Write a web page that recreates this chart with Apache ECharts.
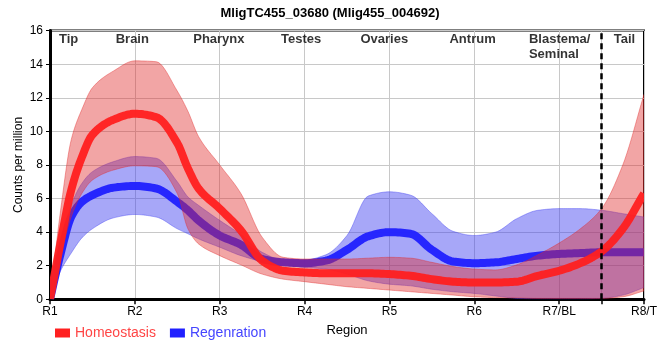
<!DOCTYPE html>
<html>
<head>
<meta charset="utf-8">
<script src="https://cdn.jsdelivr.net/npm/echarts@6/dist/echarts.min.js"></script>
<style>
html,body{margin:0;padding:0;background:#fff;}
#chart{width:660px;height:360px;}
</style>
</head>
<body>
<div id="chart"></div>
<script>
// ---- data ----
const titleText = 'MligTC455_03680 (Mlig455_004692)';
const regionTicks = ['R1', 'R2', 'R3', 'R4', 'R5', 'R6', 'R7/BL', 'R8/T'];
const regionNames = ['Tip', 'Brain', 'Pharynx', 'Testes', 'Ovaries', 'Antrum', 'Blastema/\nSeminal', 'Tail'];
const xs = [1, 1.125, 1.25, 1.375, 1.5, 1.75, 2, 2.25, 2.5, 2.625, 2.75, 3, 3.25, 3.5, 3.75, 4, 4.25, 4.5, 4.75, 5, 5.25, 5.5, 5.75, 6, 6.25, 6.5, 6.75, 7, 7.25, 7.5, 7.75, 8];
const homeoMean = [0, 3.4, 6.5, 8.45, 9.8, 10.7, 11.05, 10.85, 9.3, 7.8, 6.6, 5.4, 4.1, 2.3, 1.7, 1.6, 1.55, 1.55, 1.55, 1.5, 1.4, 1.2, 1.05, 1.0, 1.0, 1.05, 1.4, 1.7, 2.15, 2.85, 4.2, 6.3];
const homeoHigh = [0, 5.3, 9.5, 11.3, 12.6, 13.6, 14.2, 14.15, 12.4, 11.2, 9.7, 8.0, 6.3, 3.7, 2.5, 2.4, 2.4, 2.4, 2.45, 2.5, 2.45, 2.2, 1.95, 1.8, 1.75, 2.05, 2.65, 3.35, 4.2, 5.4, 8.0, 12.2];
const homeoLow = [0, 2.6, 4.9, 6.3, 7.1, 7.7, 7.95, 7.9, 6.3, 4.2, 3.3, 2.6, 2.05, 1.5, 1.2, 1.05, 0.9, 0.75, 0.65, 0.55, 0.45, 0.35, 0.25, 0.15, 0.1, 0.08, 0.05, 0.05, 0.05, 0.05, 0.15, 0.5];
const regenMean = [0, 2.7, 4.9, 5.8, 6.2, 6.65, 6.75, 6.6, 5.8, 5.3, 4.7, 3.8, 3.25, 2.4, 2.2, 2.15, 2.3, 2.95, 3.75, 4.0, 3.9, 2.95, 2.25, 2.15, 2.2, 2.4, 2.6, 2.7, 2.75, 2.8, 2.8, 2.8];
const regenHigh = [0, 3.2, 5.6, 6.9, 7.6, 8.2, 8.5, 8.4, 7.0, 6.1, 5.6, 4.7, 3.85, 2.8, 2.35, 2.35, 2.65, 3.8, 6.15, 6.4, 6.2, 5.1, 4.05, 3.8, 4.0, 4.8, 5.3, 5.4, 5.4, 5.3, 5.1, 4.9];
const regenLow = [0, 1.7, 2.75, 3.65, 4.2, 4.85, 5.05, 4.9, 4.2, 3.9, 3.6, 3.1, 2.6, 2.25, 2.05, 1.9, 1.8, 1.5, 1.1, 0.9, 0.8, 0.6, 0.45, 0.35, 0.2, 0.05, 0, 0, 0, 0.05, 0.25, 0.7];
const boundaryX = 7.5;

// ---- layout / style ----
const regionLabelX = [1.22, 1.97, 2.99, 3.96, 4.94, 5.98, 6.644, 7.77];

// monotone cubic (Fritsch-Carlson) rendering of a curve through the data, sampled only for drawing
function curve(ys, steps) {
  const n = xs.length;
  const d = [], m = new Array(n);
  for (let i = 0; i < n - 1; i++) d.push((ys[i + 1] - ys[i]) / (xs[i + 1] - xs[i]));
  m[0] = d[0]; m[n - 1] = d[n - 2];
  for (let i = 1; i < n - 1; i++) {
    if (d[i - 1] * d[i] <= 0) m[i] = 0;
    else {
      const h0 = xs[i] - xs[i - 1], h1 = xs[i + 1] - xs[i];
      const w1 = 2 * h1 + h0, w2 = h1 + 2 * h0;
      m[i] = (w1 + w2) / (w1 / d[i - 1] + w2 / d[i]);
    }
  }
  const out = [];
  for (let i = 0; i < n - 1; i++) {
    const h = xs[i + 1] - xs[i];
    for (let s = 0; s < steps; s++) {
      const t = s / steps, t2 = t * t, t3 = t2 * t;
      const y = (2 * t3 - 3 * t2 + 1) * ys[i] + (t3 - 2 * t2 + t) * h * m[i] +
        (-2 * t3 + 3 * t2) * ys[i + 1] + (t3 - t2) * h * m[i + 1];
      out.push([xs[i] + t * h, y]);
    }
  }
  out.push([xs[n - 1], ys[n - 1]]);
  return out;
}

function bandSeries(lo, hi, fill, edge) {
  const upper = curve(hi, 10);
  const lower = curve(lo, 10).reverse();
  return {
    type: 'custom', silent: true, clip: true,
    data: [[xs[0], 0]],
    renderItem: (params, api) => ({
      type: 'polygon',
      shape: { points: upper.concat(lower).map((p) => api.coord(p)) },
      style: { fill: fill, stroke: edge, lineWidth: 0.8 }
    })
  };
}

function meanSeries(name, ys, color) {
  const pts = curve(ys, 10);
  return {
    name: name, type: 'custom', silent: true, clip: true,
    itemStyle: { color: color },
    data: [[xs[0], 0]],
    renderItem: (params, api) => ({
      type: 'polyline',
      shape: { points: pts.map((p) => api.coord(p)) },
      style: { fill: null, stroke: color, lineWidth: 8, lineJoin: 'round', opacity: 0.95 }
    })
  };
}

const chart = echarts.init(document.getElementById('chart'), null, { renderer: 'canvas' });
const option = {
  animation: false,
  title: {
    text: titleText, left: 'center', top: 2,
    textStyle: { fontFamily: 'Liberation Sans', fontSize: 13, fontWeight: 'bold', color: '#000' }
  },
  legend: {
    data: [
      { name: 'Homeostasis', textStyle: { color: '#ff4545' } },
      { name: 'Regenration', textStyle: { color: '#4545ff' } }
    ],
    left: 50, top: 321, icon: 'rect', itemWidth: 15, itemHeight: 9, itemGap: 14,
    textStyle: { fontFamily: 'Liberation Sans', fontSize: 14 }
  },
  grid: { left: 50, right: 10, top: 30.6, bottom: 60.7, show: true, borderColor: '#000', borderWidth: 2 },
  xAxis: {
    type: 'value', min: 1, max: 8, interval: 1,
    name: 'Region', nameLocation: 'middle', nameGap: 25, nameMoveOverlap: false,
    nameTextStyle: { fontFamily: 'Liberation Sans', fontSize: 13, color: '#000' },
    axisLine: { lineStyle: { color: '#000', width: 3 } },
    axisTick: { show: true, length: 5, lineStyle: { color: '#000', width: 1.5 }, customValues: [1, 2, 3, 4, 5, 6, 7, 7.5, 8] },
    axisLabel: {
      margin: 6, fontFamily: 'Liberation Sans', fontSize: 12, color: '#000',
      formatter: (v) => regionTicks[Math.round(v) - 1] || ''
    },
    splitLine: { show: true, lineStyle: { color: '#c8c8c8', width: 1 } }
  },
  yAxis: {
    type: 'value', min: 0, max: 16, interval: 2,
    name: 'Counts per million', nameLocation: 'middle', nameGap: 25, nameMoveOverlap: false,
    nameTextStyle: { fontFamily: 'Liberation Sans', fontSize: 12, color: '#000' },
    axisLine: { show: true, lineStyle: { color: '#000', width: 3 } },
    axisTick: { show: true, length: 4, lineStyle: { color: '#000', width: 1 } },
    axisLabel: { margin: 7, fontFamily: 'Liberation Sans', fontSize: 12, color: '#000' },
    splitLine: { show: true, lineStyle: { color: '#c8c8c8', width: 1 } }
  },
  series: [
    bandSeries(regenLow, regenHigh, 'rgba(60,60,240,0.45)', 'rgba(60,60,240,0.5)'),
    meanSeries('Regenration', regenMean, '#2020ff'),
    bandSeries(homeoLow, homeoHigh, 'rgba(225,40,40,0.42)', 'rgba(225,40,40,0.5)'),
    meanSeries('Homeostasis', homeoMean, '#ff2020'),
    {
      type: 'scatter', symbolSize: 0, clip: false, silent: true,
      data: regionNames.map((n, i) => ({
        value: [regionLabelX[i], 16, n],
        label: { align: n.indexOf('Blastema') === 0 ? 'left' : 'center' }
      })),
      label: {
        show: true, position: 'bottom', distance: 1, formatter: (p) => p.data.value[2],
        fontFamily: 'Liberation Sans', fontSize: 13, fontWeight: 'bold', color: '#000', lineHeight: 15
      },
      markLine: {
        silent: true, symbol: ['none', 'none'], label: { show: false },
        lineStyle: { color: '#000', width: 2.5, type: [6, 4] },
        data: [[{ coord: [boundaryX, 0] }, { coord: [boundaryX, 16] }]]
      }
    }
  ]
};
chart.setOption(option);
</script>
</body>
</html>
